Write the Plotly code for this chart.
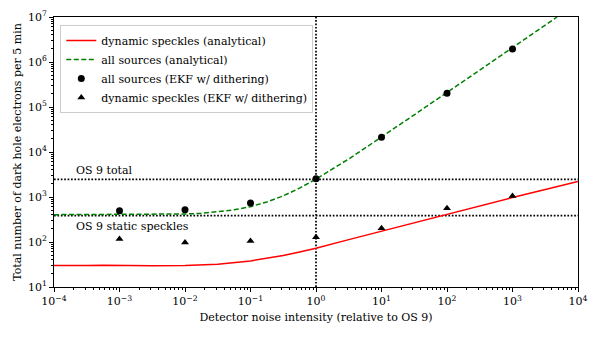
import plotly.graph_objects as go

# analytical curves
red_x = [1e-4, 10**-3.75, 10**-3.5, 10**-3.25, 1e-3, 10**-2.5, 1e-2, 10**-1.5, 1e-1,
         10**-0.75, 10**-0.5, 10**-0.25, 1, 10**0.5, 10, 10**1.5, 100, 10**2.5, 1000, 10**3.5, 1e4]
red_y = [30, 29.6, 30.2, 30.6, 30, 29.7, 30, 32, 38,
         43, 50, 60, 73, 113, 175, 270, 415, 640, 970, 1460, 2200]

green_x = [1e-4, 1e-3, 1e-2, 0.0178, 0.0316, 0.056, 0.1, 0.178, 0.316, 0.56, 1,
           1.78, 3.16, 5.6, 10, 31.6, 100, 316, 1000, 3160, 4800]
green_y = [405, 405, 420, 432, 465, 518, 610, 775, 1060, 1575, 2500,
           4140, 7000, 12200, 21400, 67000, 210000, 665000, 2.1e6, 6.6e6, 1.0e7]

# EKF w/ dithering results
ekf_x = [1e-3, 1e-2, 1e-1, 1, 10, 100, 1000]
ekf_all = [497, 522, 736, 2550, 21200, 201000, 1.95e6]
ekf_dyn = [117, 97, 105, 127, 201, 560, 1050]

os9_total = 2470
os9_static = 385
os9_noise = 1

x_ticks = [1e-4, 1e-3, 1e-2, 1e-1, 1, 10, 100, 1000, 1e4]
x_labels = ["10<sup>−4</sup>", "10<sup>−3</sup>", "10<sup>−2</sup>", "10<sup>−1</sup>", "10<sup>0</sup>",
            "10<sup>1</sup>", "10<sup>2</sup>", "10<sup>3</sup>", "10<sup>4</sup>"]
y_ticks = [10, 100, 1000, 1e4, 1e5, 1e6, 1e7]
y_labels = ["10<sup>1</sup>", "10<sup>2</sup>", "10<sup>3</sup>", "10<sup>4</sup>",
            "10<sup>5</sup>", "10<sup>6</sup>", "10<sup>7</sup>"]

# minor tick positions (2..9 in every decade)
x_minor = [m * d for d in x_ticks[:-1] for m in range(2, 10)]
y_minor = [m * d for d in y_ticks[:-1] for m in range(2, 10)]

font = "DejaVu Serif, Liberation Serif, serif"

fig = go.Figure()
fig.add_trace(go.Scatter(x=red_x, y=red_y, mode="lines", name="dynamic speckles (analytical)",
                         line=dict(color="red", width=1.5)))
fig.add_trace(go.Scatter(x=green_x, y=green_y, mode="lines", name="all sources (analytical)",
                         line=dict(color="green", width=1.5, dash="5px,2.5px")))
fig.add_trace(go.Scatter(x=ekf_x, y=ekf_all, mode="markers", name="all sources (EKF w/ dithering)",
                         marker=dict(color="black", size=7, symbol="circle")))
fig.add_trace(go.Scatter(x=ekf_x, y=ekf_dyn, mode="markers", name="dynamic speckles (EKF w/ dithering)",
                         marker=dict(color="black", size=7, symbol="triangle-up")))
# empty trace so the minor-tick axes get drawn
fig.add_trace(go.Scatter(x=[], y=[], xaxis="x2", yaxis="y2", showlegend=False, hoverinfo="skip"))

dotted = dict(color="black", width=1.7, dash="1.7px,1.7px")
fig.add_hline(y=os9_total, line=dotted, layer="below")
fig.add_hline(y=os9_static, line=dotted, layer="below")
fig.add_vline(x=os9_noise, line=dotted, layer="below")

fig.add_annotation(x=-3.7, y=3.3927, text="OS 9 total", showarrow=False,
                   xanchor="left", yanchor="bottom", font=dict(size=11))
fig.add_annotation(x=-3.7, y=2.5855, text="OS 9 static speckles", showarrow=False,
                   xanchor="left", yanchor="top", font=dict(size=11), yshift=-2)

axis_common = dict(
    type="log", showgrid=False, zeroline=False, automargin=False,
    showline=True, linecolor="black", linewidth=1, mirror=True,
    ticks="outside", ticklen=4, tickwidth=1, tickcolor="black",
    tickfont=dict(size=11),
)
fig.update_xaxes(range=[-4, 4], tickvals=x_ticks, ticktext=x_labels,
                 title=dict(text="Detector noise intensity (relative to OS 9)",
                            font=dict(size=11), standoff=6), **axis_common)
fig.update_yaxes(range=[1, 7], tickvals=y_ticks, ticktext=y_labels,
                 title=dict(text="Total number of dark hole electrons per 5 min",
                            font=dict(size=11), standoff=4), **axis_common)

minor_common = dict(type="log", showgrid=False, zeroline=False, showline=False,
                    showticklabels=False, ticks="outside", ticklen=2, tickwidth=0.8,
                    tickcolor="black")

fig.update_layout(
    width=584, height=322,
    margin=dict(l=46, r=14, t=9, b=43),
    plot_bgcolor="white", paper_bgcolor="white",
    font=dict(family=font, color="black", size=11),
    xaxis2=dict(overlaying="x", anchor="y", side="bottom", range=[-4, 4],
                tickvals=x_minor, **minor_common),
    yaxis2=dict(overlaying="y", anchor="x", side="left", range=[1, 7],
                tickvals=y_minor, **minor_common),
    legend=dict(x=0.012, y=0.97, xanchor="left", yanchor="top",
                bgcolor="rgba(255,255,255,0.8)", bordercolor="#cccccc", borderwidth=1,
                font=dict(size=11), tracegroupgap=0),
)

fig.write_html("out.html")
